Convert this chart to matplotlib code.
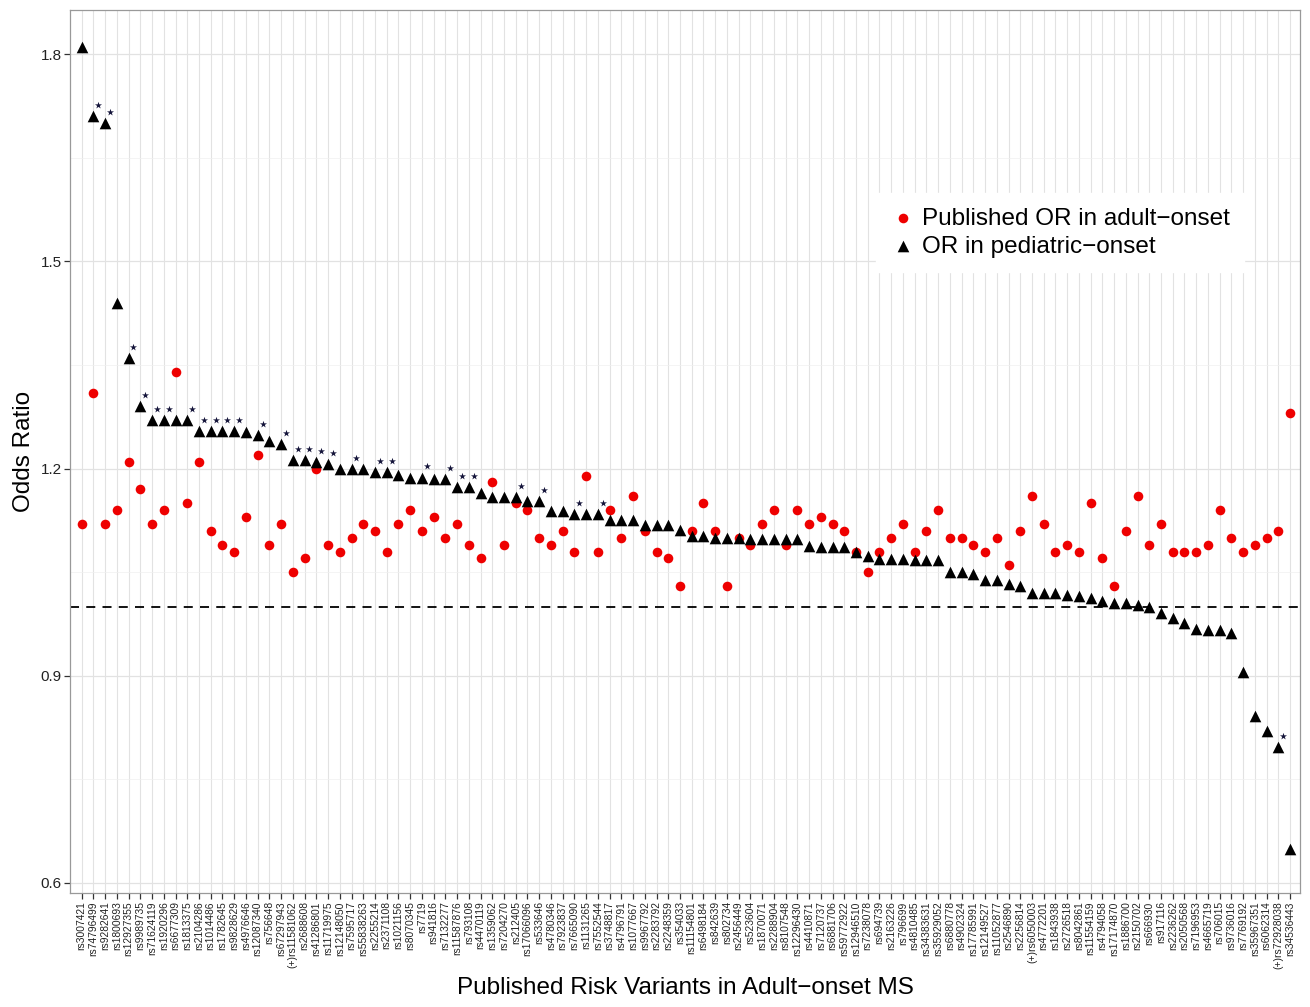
import matplotlib.pyplot as plt
import numpy as np
from matplotlib.transforms import offset_copy

plt.rcParams['font.family'] = ['Liberation Sans', 'DejaVu Sans']

variants = [
    "rs3007421", "rs74796499", "rs9282641", "rs1800693", "rs12927355", "rs9989735",
    "rs71624119", "rs1920296", "rs6677309", "rs1813375", "rs2104286", "rs1014486",
    "rs1782645", "rs9828629", "rs4976646", "rs12087340", "rs756648", "rs67297943",
    "(+)rs11581062", "rs2688608", "rs41286801", "rs11719975", "rs12148050", "rs7595717",
    "rs55838263", "rs2255214", "rs2371108", "rs1021156", "rs8070345", "rs7719",
    "rs941816", "rs7132277", "rs11587876", "rs793108", "rs4470119", "rs1359062",
    "rs7204270", "rs212405", "rs17066096", "rs533646", "rs4780346", "rs7923837",
    "rs7665090", "rs1131265", "rs7552544", "rs3748817", "rs4796791", "rs1077667",
    "rs9967792", "rs2283792", "rs2248359", "rs354033", "rs11154801", "rs6498184",
    "rs842639", "rs802734", "rs2456449", "rs523604", "rs1870071", "rs2288904",
    "rs8107548", "rs12296430", "rs4410871", "rs7120737", "rs6881706", "rs59772922",
    "rs12946510", "rs7238078", "rs694739", "rs2163226", "rs796699", "rs4810485",
    "rs34383631", "rs35929052", "rs6880778", "rs4902324", "rs17785991", "rs12149527",
    "rs11052877", "rs2546890", "rs2256814", "(+)rs6050003", "rs4772201", "rs1843938",
    "rs2726518", "rs8042861", "rs11554159", "rs4794058", "rs17174870", "rs1886700",
    "rs2150702", "rs666930", "rs917116", "rs2236262", "rs2050568", "rs7196953",
    "rs4665719", "rs706015", "rs9736016", "rs7769192", "rs35967351", "rs6062314",
    "(+)rs72928038", "rs34536443",
]

adult_or = [
    1.12, 1.31, 1.12, 1.14, 1.21, 1.17, 1.12, 1.14, 1.34, 1.15,
    1.21, 1.11, 1.09, 1.08, 1.13, 1.22, 1.09, 1.12, 1.05, 1.07,
    1.20, 1.09, 1.08, 1.10, 1.12, 1.11, 1.08, 1.12, 1.14, 1.11,
    1.13, 1.10, 1.12, 1.09, 1.07, 1.18, 1.09, 1.15, 1.14, 1.10,
    1.09, 1.11, 1.08, 1.19, 1.08, 1.14, 1.10, 1.16, 1.11, 1.08,
    1.07, 1.03, 1.11, 1.15, 1.11, 1.03, 1.10, 1.09, 1.12, 1.14,
    1.09, 1.14, 1.12, 1.13, 1.12, 1.11, 1.08, 1.05, 1.08, 1.10,
    1.12, 1.08, 1.11, 1.14, 1.10, 1.10, 1.09, 1.08, 1.10, 1.06,
    1.11, 1.16, 1.12, 1.08, 1.09, 1.08, 1.15, 1.07, 1.03, 1.11,
    1.16, 1.09, 1.12, 1.08, 1.08, 1.08, 1.09, 1.14, 1.10, 1.08,
    1.09, 1.10, 1.11, 1.28,
]

pediatric_or = [
    1.81, 1.71, 1.70, 1.44, 1.36, 1.29, 1.27, 1.27, 1.27, 1.27,
    1.255, 1.255, 1.255, 1.255, 1.253, 1.249, 1.24, 1.235, 1.213, 1.212,
    1.209, 1.207, 1.200, 1.200, 1.200, 1.195, 1.195, 1.191, 1.187, 1.187,
    1.185, 1.185, 1.173, 1.173, 1.164, 1.159, 1.159, 1.159, 1.153, 1.153,
    1.139, 1.138, 1.134, 1.134, 1.134, 1.125, 1.125, 1.125, 1.118, 1.118,
    1.118, 1.111, 1.103, 1.103, 1.100, 1.100, 1.100, 1.098, 1.098, 1.098,
    1.098, 1.098, 1.088, 1.087, 1.086, 1.086, 1.080, 1.074, 1.069, 1.069,
    1.069, 1.068, 1.068, 1.068, 1.051, 1.051, 1.047, 1.039, 1.039, 1.033,
    1.030, 1.020, 1.020, 1.020, 1.017, 1.016, 1.013, 1.009, 1.006, 1.005,
    1.003, 0.999, 0.991, 0.983, 0.977, 0.968, 0.966, 0.966, 0.962, 0.905,
    0.842, 0.820, 0.797, 0.649,
]

# variants marked with a star above the pediatric triangle
starred = [
    "rs74796499", "rs9282641", "rs12927355", "rs9989735", "rs71624119", "rs1920296",
    "rs1813375", "rs2104286", "rs1014486", "rs1782645", "rs9828629", "rs12087340",
    "rs67297943", "(+)rs11581062", "rs2688608", "rs41286801", "rs11719975", "rs7595717",
    "rs2255214", "rs2371108", "rs7719", "rs7132277", "rs11587876", "rs793108",
    "rs212405", "rs533646", "rs7665090", "rs7552544", "(+)rs72928038",
]

fig = plt.figure(figsize=(13.1, 10.07), dpi=100)
ax = fig.add_axes([0.0534, 0.1132, 0.9390, 0.8768])

x = np.arange(len(variants))
ax.scatter(x, adult_or, s=48, c='#ee0000', marker='o', lw=0,
           label='Published OR in adult\u2212onset', zorder=3)
ax.scatter(x, pediatric_or, s=70, c='black', marker='^', lw=0,
           label='OR in pediatric\u2212onset', zorder=4)

star_tr = offset_copy(ax.transData, fig=fig, x=3.5, y=8, units='points')
sx = [i for i, v in enumerate(variants) if v in starred]
sy = [pediatric_or[i] for i in sx]
ax.scatter(sx, sy, s=28, c='#14143a', marker='*', lw=0, transform=star_tr, zorder=5)

ax.axhline(1.0, color='black', lw=1.3, ls=(0, (5, 4)), zorder=2)

ax.set_xlim(-1.0, len(variants) - 0.15)
ax.set_ylim(0.5855, 1.864)
ax.set_xticks(x)
ax.set_xticklabels(variants, rotation=90, fontsize=7.4, color='#222222')
ax.set_yticks([0.6, 0.9, 1.2, 1.5, 1.8])
ax.set_yticklabels(['0.6', '0.9', '1.2', '1.5', '1.8'], fontsize=11, color='#222222')
ax.set_yticks([0.75, 1.05, 1.35, 1.65], minor=True)
ax.tick_params(axis='both', which='major', length=4, width=0.9, color='#333333', pad=2)
ax.tick_params(axis='y', which='minor', length=0)

ax.grid(axis='x', color='#e2e2e2', lw=0.8, zorder=0)
ax.grid(axis='y', which='major', color='#e2e2e2', lw=0.9, zorder=0)
ax.grid(axis='y', which='minor', color='#f0f0f0', lw=0.5, zorder=0)
ax.set_axisbelow(True)
for s in ax.spines.values():
    s.set_color('#999999')
    s.set_linewidth(0.9)

ax.set_xlabel('Published Risk Variants in Adult\u2212onset MS', fontsize=17.5, labelpad=6)
ax.set_ylabel('Odds Ratio', fontsize=17.5, labelpad=4)

leg = ax.legend(loc='center', bbox_to_anchor=(0.805, 0.748), fontsize=17.5,
                frameon=True, fancybox=False, edgecolor='white', facecolor='white',
                framealpha=1, handletextpad=0.3, handlelength=1.0, borderpad=0.6,
                labelspacing=0.25, markerscale=1.0)

fig.savefig('out.png', dpi=100)
